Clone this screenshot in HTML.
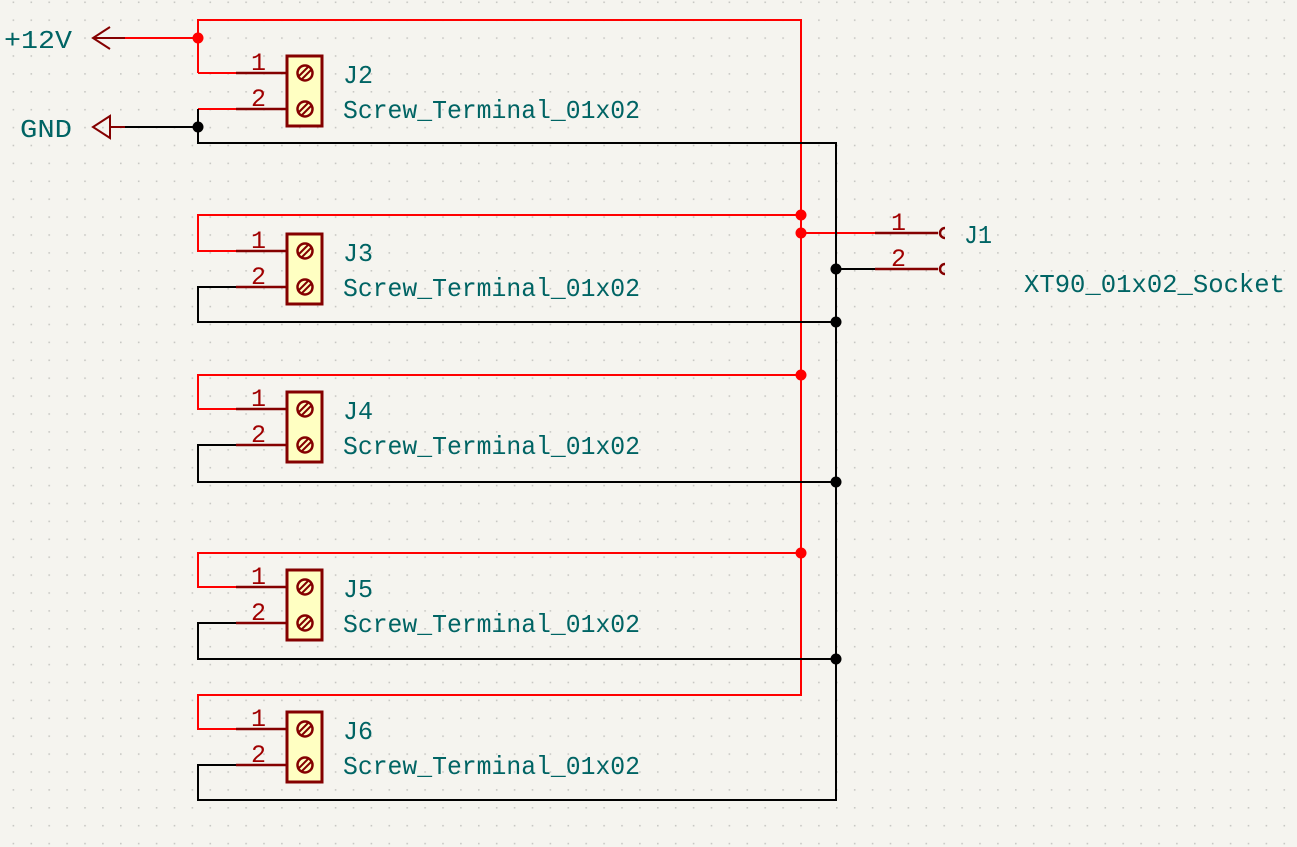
<!DOCTYPE html>
<html><head><meta charset="utf-8"><style>
html,body{margin:0;padding:0;background:#f5f4ef;}
svg{display:block;}
text{font-family:"Liberation Mono","DejaVu Sans Mono",monospace;}
</style></head><body>
<svg width="1297" height="847" viewBox="0 0 1297 847" xmlns="http://www.w3.org/2000/svg">
<defs>
<pattern id="g" x="12.6" y="1.5" width="17.9" height="17.9" patternUnits="userSpaceOnUse">
<rect x="0" y="0" width="1.6" height="1.6" fill="#c8c8c4"/>
</pattern>
<g id="term">
<line x1="236" y1="0" x2="287" y2="0" stroke="#840000" stroke-width="2.5"/>
<line x1="236" y1="36" x2="287" y2="36" stroke="#840000" stroke-width="2.5"/>
<rect x="287" y="-17" width="35" height="70" fill="#ffffc2" stroke="#840000" stroke-width="3"/>
<circle cx="305" cy="0" r="7.5" fill="none" stroke="#840000" stroke-width="2.5"/>
<line x1="299" y1="3" x2="308" y2="-6" stroke="#840000" stroke-width="2"/>
<line x1="302" y1="6" x2="311" y2="-3" stroke="#840000" stroke-width="2"/>
<circle cx="305" cy="36" r="7.5" fill="none" stroke="#840000" stroke-width="2.5"/>
<line x1="299" y1="39" x2="308" y2="30" stroke="#840000" stroke-width="2"/>
<line x1="302" y1="42" x2="311" y2="33" stroke="#840000" stroke-width="2"/>
<text x="251" y="-3" font-size="25" fill="#a00000">1</text>
<text x="251" y="33" font-size="25" fill="#a00000">2</text>
<text x="343" y="45" font-size="26" fill="#006464" textLength="297" lengthAdjust="spacingAndGlyphs">Screw_Terminal_01x02</text>
</g>
</defs>
<rect width="1297" height="847" fill="url(#g)"/>

<g stroke="#ff0000" stroke-width="2" fill="none">
<polyline points="198,73 198,20 801,20 801,695 198,695 198,729 236,729"/>
<line x1="125" y1="38" x2="198" y2="38"/>
<line x1="198" y1="109" x2="236" y2="109"/>
<polyline points="801,215 198,215 198,251 236,251"/>
<polyline points="801,375 198,375 198,409 236,409"/>
<polyline points="801,553 198,553 198,587 236,587"/>
<line x1="801" y1="233" x2="875" y2="233"/>
<line x1="198" y1="73" x2="236" y2="73"/>
</g>
<line x1="94" y1="38" x2="125" y2="38" stroke="#840000" stroke-width="2"/>
<polyline points="110,27 93,38 110,49" fill="none" stroke="#840000" stroke-width="2"/>
<g stroke="#000" stroke-width="2" fill="none">
<polyline points="198,109 198,143 836,143 836,800 198,800 198,765 236,765"/>
<line x1="125" y1="127" x2="198" y2="127"/>
<polyline points="236,287 198,287 198,322 836,322"/>
<polyline points="236,445 198,445 198,482 836,482"/>
<polyline points="236,623 198,623 198,659 836,659"/>
<line x1="836" y1="269" x2="875" y2="269"/>
</g>
<line x1="110" y1="127" x2="125" y2="127" stroke="#840000" stroke-width="2"/>
<polygon points="110,116 93,127 110,138" fill="none" stroke="#840000" stroke-width="2"/>
<text x="4" y="48" font-size="26" fill="#006464" textLength="68" lengthAdjust="spacingAndGlyphs">+12V</text>
<text x="20" y="137" font-size="26" fill="#006464" textLength="52" lengthAdjust="spacingAndGlyphs">GND</text>

<line x1="875" y1="233" x2="938" y2="233" stroke="#840000" stroke-width="2.5"/>
<line x1="875" y1="269" x2="938" y2="269" stroke="#840000" stroke-width="2.5"/>
<path d="M945,228 A5,5 0 0 0 945,238" fill="none" stroke="#840000" stroke-width="2.5"/>
<path d="M945,264 A5,5 0 0 0 945,274" fill="none" stroke="#840000" stroke-width="2.5"/>
<text x="891" y="230" font-size="25" fill="#a00000">1</text>
<text x="891" y="266" font-size="25" fill="#a00000">2</text>
<text x="964" y="243" font-size="26" fill="#006464" textLength="28" lengthAdjust="spacingAndGlyphs">J1</text>
<text x="1024" y="292" font-size="26" fill="#006464" textLength="261" lengthAdjust="spacingAndGlyphs">XT90_01x02_Socket</text>

<use href="#term" y="73"/>
<use href="#term" y="251"/>
<use href="#term" y="409"/>
<use href="#term" y="587"/>
<use href="#term" y="729"/>
<text x="343" y="83" font-size="26" fill="#006464" textLength="30" lengthAdjust="spacingAndGlyphs">J2</text>
<text x="343" y="261" font-size="26" fill="#006464" textLength="30" lengthAdjust="spacingAndGlyphs">J3</text>
<text x="343" y="419" font-size="26" fill="#006464" textLength="30" lengthAdjust="spacingAndGlyphs">J4</text>
<text x="343" y="597" font-size="26" fill="#006464" textLength="30" lengthAdjust="spacingAndGlyphs">J5</text>
<text x="343" y="739" font-size="26" fill="#006464" textLength="30" lengthAdjust="spacingAndGlyphs">J6</text>

<g fill="#ff0000">
<circle cx="198" cy="38" r="5.5"/>
<circle cx="801" cy="215" r="5.5"/>
<circle cx="801" cy="233" r="5.5"/>
<circle cx="801" cy="375" r="5.5"/>
<circle cx="801" cy="553" r="5.5"/>
</g>
<g fill="#000">
<circle cx="198" cy="127" r="5.5"/>
<circle cx="836" cy="269" r="5.5"/>
<circle cx="836" cy="322" r="5.5"/>
<circle cx="836" cy="482" r="5.5"/>
<circle cx="836" cy="659" r="5.5"/>
</g>
</svg>
</body></html>
